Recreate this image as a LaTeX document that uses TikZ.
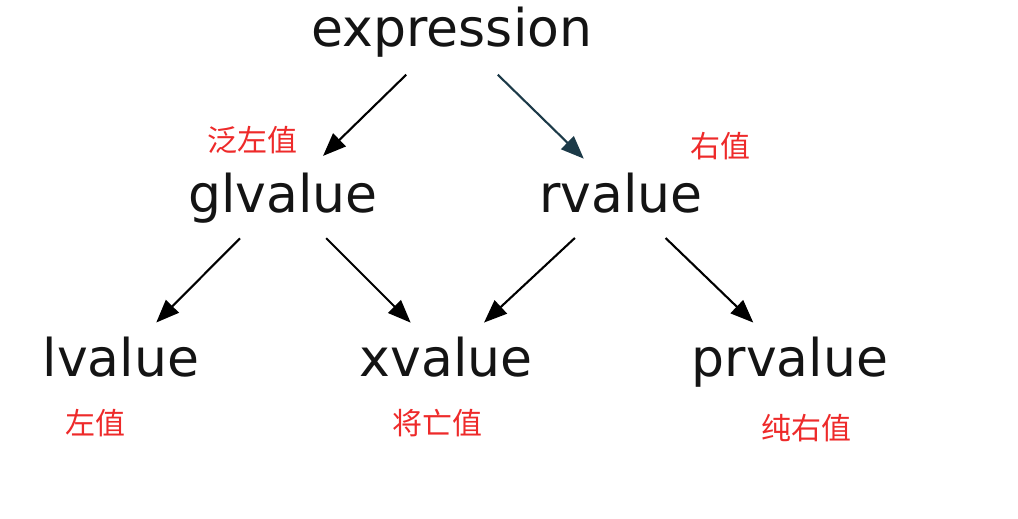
\documentclass[tikz,border=0pt]{standalone}
\usepackage{fontspec}
\setmainfont{DejaVu Sans}
\newfontfamily\cjk{Noto Sans CJK SC}
\usetikzlibrary{arrows.meta}
\definecolor{lblred}{HTML}{EE2A2A}
\definecolor{darkteal}{HTML}{1C3A48}
\tikzset{
  term/.style={anchor=base, inner sep=0pt, font=\fontsize{52}{60}\selectfont, text=black!92},
  cn/.style={anchor=center, inner sep=0pt, font=\cjk\fontsize{30}{36}\selectfont, text=lblred},
  arr/.style={line width=2.1pt, -{Triangle[length=23pt,width=18pt]}},
}
\begin{document}
\begin{tikzpicture}[x=1pt,y=-1pt]
\useasboundingbox (0,0) rectangle (1018,519);
\fill[white] (0,0) rectangle (1018,519);
\node[term] (e) at (452,47) {expression};
\node[term] (gl) at (283,212) {glvalue};
\node[term] (rv) at (621,212) {rvalue};
\node[term] (lv) at (121,376) {lvalue};
\node[term] (xv) at (446,376) {xvalue};
\node[term] (pr) at (790,376) {prvalue};
\coordinate (ec) at (452,30);
\coordinate (glc) at (283,195);
\coordinate (rvc) at (621,195);
\coordinate (lvc) at (121,358);
\coordinate (xvc) at (446,358);
\coordinate (prc) at (790,358);
\draw[arr, shorten <=64pt, shorten >=56pt] (ec) -- (glc);
\draw[arr, darkteal, shorten <=64pt, shorten >=52pt] (ec) -- (rvc);
\draw[arr, shorten <=61pt, shorten >=50pt] (glc) -- (lvc);
\draw[arr, shorten <=61pt, shorten >=50pt] (glc) -- (xvc);
\draw[arr, shorten <=63pt, shorten >=52pt] (rvc) -- (xvc);
\draw[arr, shorten <=62pt, shorten >=51pt] (rvc) -- (prc);
\node[cn] (l1) at (252,140) {泛左值};
\node[cn] (l2) at (720,146) {右值};
\node[cn] (l3) at (95,423) {左值};
\node[cn] (l4) at (437,423) {将亡值};
\node[cn] (l5) at (806,428) {纯右值};
\end{tikzpicture}
\end{document}
